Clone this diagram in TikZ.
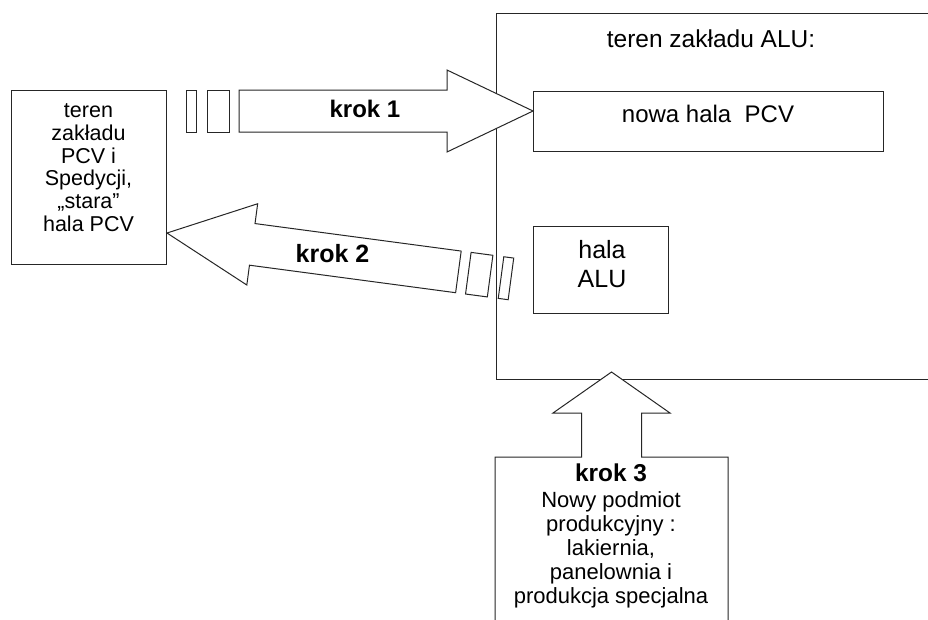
\documentclass[tikz,border=0pt]{standalone}
\usepackage{fontspec}
\setmainfont{Liberation Sans}
\newcommand{\myfs}[2]{\fontsize{#1}{#2}\selectfont}
\tikzset{
  shapeline/.style={draw=black!85, line width=1pt, fill=white, line join=miter},
  boxst/.style={draw=black!85, line width=1pt, fill=white, inner sep=0pt},
  txt/.style={inner sep=0pt, align=center, text=black}
}
\newcommand{\blockarrowshape}{%
  \draw[shapeline] (0,0) -- (86,-41) -- (86,-21) -- (294,-21) -- (294,21) -- (86,21) -- (86,41) -- cycle;
  \draw[shapeline] (304,-21) -- (326,-21) -- (326,21) -- (304,21) -- cycle;
  \draw[shapeline] (337,-21) -- (347,-21) -- (347,21) -- (337,21) -- cycle;
}
\begin{document}
\begin{tikzpicture}[x=1pt,y=-1pt]
\useasboundingbox (0,0) rectangle (928,619);
% big area
\node[boxst, anchor=north west, minimum width=450, minimum height=366] (alu) at (496,13) {};
\node[boxst, minimum width=350, minimum height=60] (nowa) at (708,121) {};
\node[boxst, minimum width=135, minimum height=87] (halaalu) at (600.5,269.5) {};
\node[boxst, minimum width=155, minimum height=174] (pcv) at (88.5,177) {};
% arrow krok 1
\begin{scope}[shift={(533,111)}, rotate=180]
\blockarrowshape
\end{scope}
% arrow krok 2
\begin{scope}[shift={(167,233)}, rotate=-7.6]
\blockarrowshape
\end{scope}
% callout krok 3
\coordinate (k3tip) at (611.5,372);
\draw[shapeline] (495,630) -- (495,457) -- (581.5,457) -- (581.5,413) -- (553,413) -- (k3tip) -- (670,413) -- (641.5,413) -- (641.5,457) -- (728,457) -- (728,630);
% texts
\node[txt, font={\myfs{24.5}{28}}, anchor=base] (alutitle) at (711,47) {teren zakładu ALU:};
\node[txt, font={\myfs{24}{28}}, anchor=base] (nowatext) at (708,122) {nowa hala~ PCV};
\node[txt, font={\myfs{25}{29}}] (alutext) at (602,263.6) {hala\\ALU};
\node[txt, font={\myfs{21.5}{22.8}}] (pcvtext) at (88.5,167.6) {teren\\zakładu\\PCV i\\Spedycji,\\„stara”\\hala PCV};
\node[txt, font={\bfseries\myfs{24}{28}}] (k1) at (365,109.4) {krok 1};
\node[txt, font={\bfseries\myfs{25}{29}}] (k2) at (332.5,254) {krok 2};
\node[txt, font={\bfseries\myfs{24.4}{28}}, anchor=base] (k3) at (611,481) {krok 3};
\node[txt, font={\myfs{22}{23.8}}] (k3text) at (611,549.7) {Nowy podmiot\\produkcyjny :\\lakiernia,\\panelownia i\\produkcja specjalna};
\end{tikzpicture}
\end{document}
